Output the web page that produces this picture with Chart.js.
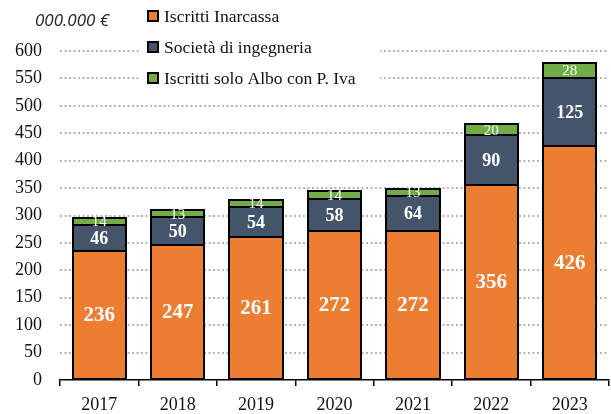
<!DOCTYPE html>
<html>
<head>
<meta charset="utf-8">
<script src="https://cdn.jsdelivr.net/npm/chart.js@4.4.1/dist/chart.umd.min.js"></script>
<style>
  html, body { margin: 0; padding: 0; background: #fff; }
  #wrap { width: 611px; height: 414px; position: relative; }
</style>
</head>
<body>
<div id="wrap"><canvas id="c" width="611" height="414"></canvas></div>
<script>
// Reddito per tipologia di soggetto, milioni di euro
const years = ['2017', '2018', '2019', '2020', '2021', '2022', '2023'];
const inarcassa = [236, 247, 261, 272, 272, 356, 426];
const societa = [46, 50, 54, 58, 64, 90, 125];
const soloAlbo = [14, 13, 14, 14, 13, 20, 28];
const seriesNames = ['Iscritti Inarcassa', 'Società di ingegneria', 'Iscritti solo Albo con P. Iva'];
const seriesColors = ['#ED7D31', '#44546A', '#70AD47'];
const unitLabel = '000.000 €';

const SERIF = '"Liberation Serif", "DejaVu Serif", serif';
const SANS = '"Open Sans", "Noto Sans", sans-serif';

// black outline around every stacked segment, centred on its edges
const segmentOutline = {
  id: 'segmentOutline',
  afterDatasetsDraw(chart) {
    const ctx = chart.ctx;
    ctx.save();
    ctx.strokeStyle = '#000';
    ctx.lineWidth = 2;
    chart.data.datasets.forEach((ds, i) => {
      chart.getDatasetMeta(i).data.forEach((bar) => {
        const left = Math.round(bar.x - bar.width / 2);
        const right = Math.round(bar.x + bar.width / 2);
        const top = Math.round(bar.y);
        const bottom = Math.round(bar.base);
        ctx.strokeRect(left, top, right - left, bottom - top);
      });
    });
    ctx.restore();
  }
};

// value labels inside each stacked segment
const labelFonts = ['bold 21px ' + SERIF, 'bold 18px ' + SERIF, '15px ' + SERIF];
const valueLabels = {
  id: 'valueLabels',
  afterDatasetsDraw(chart) {
    const ctx = chart.ctx;
    ctx.save();
    ctx.fillStyle = '#fff';
    ctx.textAlign = 'center';
    ctx.textBaseline = 'middle';
    chart.data.datasets.forEach((ds, i) => {
      const meta = chart.getDatasetMeta(i);
      ctx.font = labelFonts[i];
      meta.data.forEach((bar, j) => {
        const y = (bar.y + bar.base) / 2;
        ctx.fillText(String(ds.data[j]), bar.x, y + 1);
      });
    });
    ctx.restore();
  }
};

// unit caption and legend at the top
const header = {
  id: 'header',
  afterDraw(chart) {
    const ctx = chart.ctx;
    ctx.save();
    ctx.fillStyle = '#fff';
    ctx.fillRect(140, 0, 240, 92);
    ctx.fillStyle = '#222';
    ctx.font = 'italic 17px ' + SANS;
    ctx.textAlign = 'left';
    ctx.textBaseline = 'middle';
    ctx.fillText(unitLabel, 35, 21);
    const rows = [16, 47, 78];
    ctx.font = '17.5px ' + SERIF;
    seriesNames.forEach((name, i) => {
      ctx.fillStyle = seriesColors[i];
      ctx.fillRect(148, rows[i] - 5, 10, 10);
      ctx.strokeStyle = '#000';
      ctx.lineWidth = 2;
      ctx.strokeRect(148, rows[i] - 5, 10, 10);
      ctx.fillStyle = '#111';
      ctx.fillText(name, 164, rows[i] + 1);
    });
    ctx.restore();
  }
};

const mk = (label, data, color) => ({
  label, data,
  backgroundColor: color,
  borderWidth: 0,
  categoryPercentage: 1.0,
  barPercentage: 0.68
});

new Chart(document.getElementById('c'), {
  type: 'bar',
  data: {
    labels: years,
    datasets: [
      mk(seriesNames[0], inarcassa, seriesColors[0]),
      mk(seriesNames[1], societa, seriesColors[1]),
      mk(seriesNames[2], soloAlbo, seriesColors[2])
    ]
  },
  options: {
    responsive: false,
    animation: false,
    devicePixelRatio: 1,
    layout: { padding: { top: 51, right: 2, left: 0, bottom: 0 } },
    plugins: { legend: { display: false }, tooltip: { enabled: false } },
    scales: {
      x: {
        stacked: true,
        grid: {
          offset: true,
          drawOnChartArea: false,
          drawTicks: true,
          tickLength: 6,
          color: '#000',
          lineWidth: 1.5
        },
        border: { display: true, color: '#000', width: 1.5 },
        ticks: { color: '#111', font: { family: SERIF, size: 18 }, padding: 8 },
        afterFit(s) { s.height = 34; }
      },
      y: {
        stacked: true,
        min: 0,
        max: 600,
        ticks: { stepSize: 50, color: '#111', font: { family: SERIF, size: 18 }, padding: 18 },
        grid: {
          color: (c) => c.tick && c.tick.value === 0 ? 'rgba(0,0,0,0)' : '#b4b4b4',
          lineWidth: 2,
          drawTicks: false
        },
        border: { display: false, dash: [2, 2.5] },
        afterFit(s) { s.width = 60; }
      }
    }
  },
  plugins: [segmentOutline, valueLabels, header]
});
</script>
</body>
</html>
